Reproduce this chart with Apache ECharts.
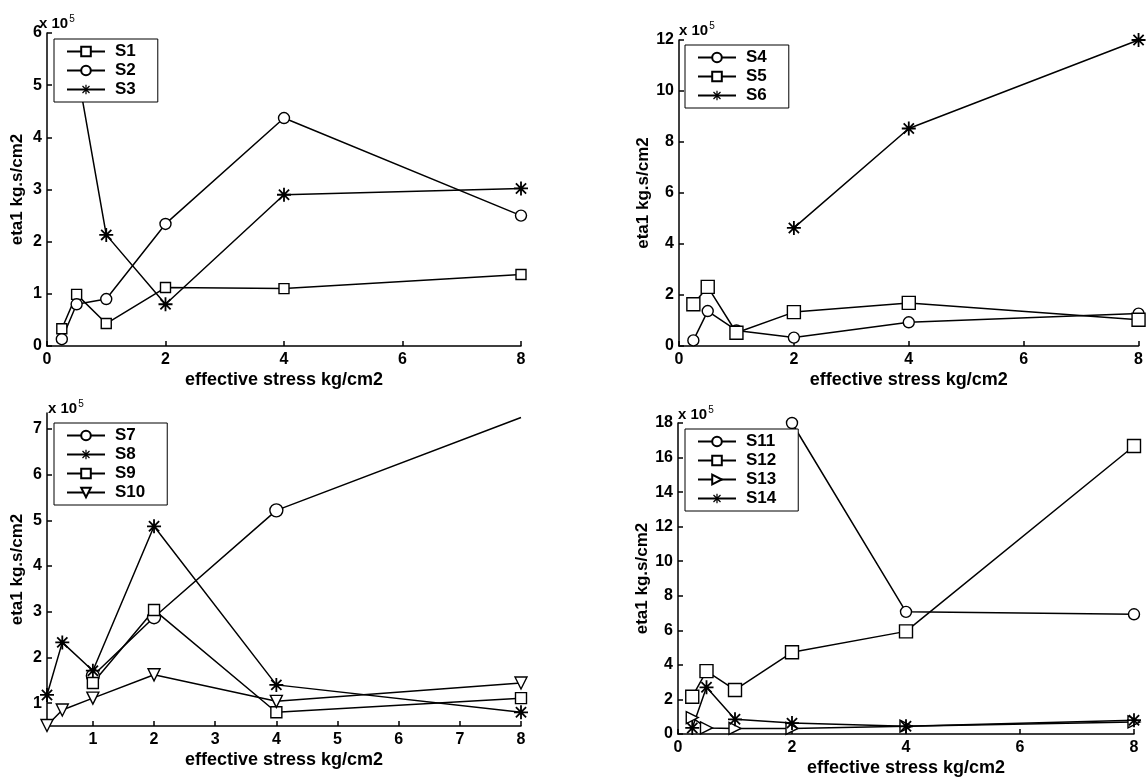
<!DOCTYPE html>
<html>
<head>
<meta charset="utf-8">
<script src="https://cdn.jsdelivr.net/npm/echarts@6/dist/echarts.min.js"></script>
<style>
  html, body { margin: 0; padding: 0; background: #fff; }
  #main { width: 1146px; height: 778px; }
</style>
</head>
<body>
<div id="main"></div>
<script>
// effective stress (kg/cm2), same for every sample
var stress = [0.25, 0.5, 1, 2, 4, 8];

// eta1 values, x 10^5 kg.s/cm2 (null = no point)
var s1 = [0.33, 0.99, 0.43, 1.12, 1.10, 1.37];
var s2 = [0.13, 0.80, 0.90, 2.34, 4.37, 2.50];
var s3 = [null, 5.35, 2.13, 0.80, 2.90, 3.02];

var s4 = [0.22, 1.37, 0.61, 0.33, 0.93, 1.27];
var s5 = [1.64, 2.32, 0.52, 1.33, 1.69, 1.03];
var s6 = [null, null, null, 4.63, 8.53, 12.0];

var s7 = [null, null, 1.60, 2.88, 5.22, 7.25];
var s8 = [1.18, 2.33, 1.71, 4.87, 1.40, 0.80];
var s9 = [null, null, 1.44, 3.04, 0.80, 1.11];
var s10 = [0.51, 0.85, 1.11, 1.62, 1.04, 1.44];

var s11 = [null, null, null, 18.0, 7.07, 6.93];
var s12 = [2.16, 3.64, 2.55, 4.73, 5.94, 16.67];
var s13 = [0.95, 0.35, 0.32, 0.32, 0.45, 0.70];
var s14 = [0.35, 2.70, 0.85, 0.63, 0.45, 0.80];

var xTicksBL = [1, 2, 3, 4, 5, 6, 7, 8];
var yTicksBL = [1, 2, 3, 4, 5, 6, 7];

var font = 'Liberation Sans';

var marks = {
    square: 'rect',
    circle: 'circle',
    star: 'path://M8.7,0h2.6v20h-2.6z M0,8.7h20v2.6h-20z M1.8,3.6L3.6,1.8L18.2,16.4L16.4,18.2z M16.4,1.8L18.2,3.6L3.6,18.2L1.8,16.4z',
    down: 'path://M0,0L20,0L10,18z',
    right: 'path://M0,0L18,10L0,20z'
};

function pairs(ys) {
    var out = [];
    for (var i = 0; i < stress.length; i++) {
        if (ys[i] !== null) out.push([stress[i], ys[i]]);
    }
    return out;
}

function line(name, ys, gi, mark, size, noEndMark) {
    var star = mark === 'star';
    var sym = marks[mark];
    return {
        name: name,
        type: 'line',
        xAxisIndex: gi,
        yAxisIndex: gi,
        data: pairs(ys),
        // S7 has no marker drawn at its last point in the source figure
        symbol: noEndMark ? function (v) { return v && v[0] >= 8 ? 'none' : sym; } : sym,
        symbolSize: size || 11,
        showAllSymbol: true,
        lineStyle: { color: '#000', width: 1.5 },
        itemStyle: {
            color: star ? '#000' : '#fff',
            borderColor: '#000',
            borderWidth: star ? 0 : 1.4
        },
        emphasis: { disabled: true }
    };
}

function xAx(gi, min, max, interval, custom) {
    var ax = {
        type: 'value', gridIndex: gi, min: min, max: max,
        name: 'effective stress kg/cm2', nameLocation: 'middle', nameGap: 25,
        nameTextStyle: { fontFamily: font, fontWeight: 'bold', fontSize: 18, color: '#000' },
        axisLine: { lineStyle: { color: '#000', width: 1.5 } },
        axisTick: { inside: true, length: 5, lineStyle: { color: '#000', width: 1.5 } },
        axisLabel: { margin: 6, fontFamily: font, fontWeight: 'bold', fontSize: 16, color: '#000' },
        splitLine: { show: false }
    };
    if (custom) {
        ax.axisLabel.customValues = custom;
        ax.axisTick.customValues = custom;
    } else {
        ax.interval = interval;
    }
    return ax;
}

function yAx(gi, min, max, interval, custom) {
    var ax = {
        type: 'value', gridIndex: gi, min: min, max: max,
        name: 'eta1 kg.s/cm2', nameLocation: 'middle', nameGap: 21,
        nameTextStyle: { fontFamily: font, fontWeight: 'bold', fontSize: 17, color: '#000' },
        axisLine: { show: true, lineStyle: { color: '#000', width: 1.5 } },
        axisTick: { show: true, inside: true, length: 5, lineStyle: { color: '#000', width: 1.5 } },
        axisLabel: { margin: 5, fontFamily: font, fontWeight: 'bold', fontSize: 16, color: '#000' },
        splitLine: { show: false }
    };
    if (custom) {
        ax.axisLabel.customValues = custom;
        ax.axisTick.customValues = custom;
    } else {
        ax.interval = interval;
    }
    return ax;
}

function legend(names, left, top) {
    return {
        data: names, orient: 'vertical', left: left, top: top,
        backgroundColor: '#fff', borderColor: '#000', borderWidth: 1,
        padding: [4, 22, 4, 12], itemGap: 2, itemWidth: 38, itemHeight: 12,
        selectedMode: false,
        textStyle: { fontFamily: font, fontWeight: 'bold', fontSize: 17, color: '#000', padding: [0, 0, 0, 5] }
    };
}

function exponent(x, y) {
    return {
        type: 'text', left: x, top: y,
        style: {
            text: '{b|x 10}{s|5}',
            rich: {
                b: { fontFamily: font, fontWeight: 'bold', fontSize: 15, fill: '#000' },
                s: { fontFamily: font, fontSize: 10, fill: '#000', verticalAlign: 'top', padding: [0, 0, 9, 1] }
            }
        }
    };
}

var myChart = echarts.init(document.getElementById('main'));

option = {
    animation: false,
    backgroundColor: '#fff',
    grid: [
        { left: 47, top: 33, width: 474, height: 313 },
        { left: 679, top: 40, width: 462, height: 306 },
        { left: 47, top: 413, width: 474, height: 313 },
        { left: 678, top: 423, width: 456, height: 314 }
    ],
    xAxis: [
        xAx(0, 0, 8, 2),
        xAx(1, 0, 8, 2),
        xAx(2, 0.25, 8, null, xTicksBL),
        xAx(3, 0, 8, 2)
    ],
    yAxis: [
        yAx(0, 0, 6, 1),
        yAx(1, 0, 12, 2),
        yAx(2, 0.5, 7.35, null, yTicksBL),
        yAx(3, 0, 18, 2)
    ],
    legend: [
        legend(['S1', 'S2', 'S3'], 54, 39),
        legend(['S4', 'S5', 'S6'], 685, 45),
        legend(['S7', 'S8', 'S9', 'S10'], 54, 423),
        legend(['S11', 'S12', 'S13', 'S14'], 685, 429)
    ],
    graphic: [
        exponent(39, 14),
        exponent(679, 21),
        exponent(48, 399),
        exponent(678, 405)
    ],
    series: [
        line('S1', s1, 0, 'square', 10),
        line('S2', s2, 0, 'circle', 11),
        line('S3', s3, 0, 'star', 14),
        line('S4', s4, 1, 'circle', 11),
        line('S5', s5, 1, 'square', 13),
        line('S6', s6, 1, 'star', 14),
        line('S7', s7, 2, 'circle', 13, true),
        line('S8', s8, 2, 'star', 14),
        line('S9', s9, 2, 'square', 11),
        line('S10', s10, 2, 'down', 12),
        line('S11', s11, 3, 'circle', 11),
        line('S12', s12, 3, 'square', 13),
        line('S13', s13, 3, 'right', 12),
        line('S14', s14, 3, 'star', 14)
    ]
};

if (option && typeof option === "object") {
    myChart.setOption(option, true);
}
</script>
</body>
</html>
